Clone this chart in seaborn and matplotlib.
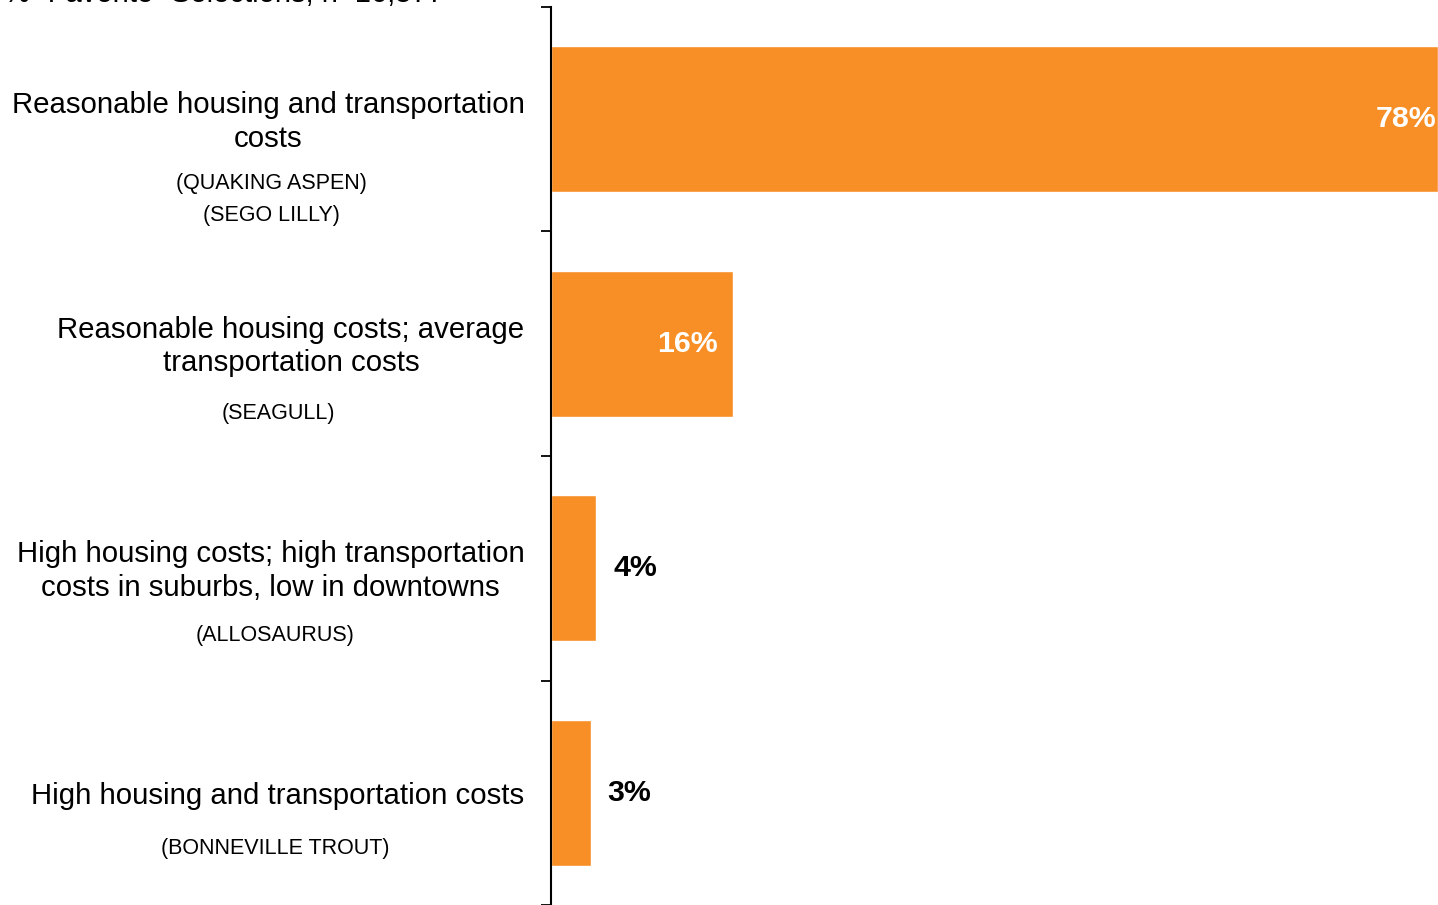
import matplotlib
matplotlib.use("Agg")
import matplotlib.pyplot as plt
import matplotlib.transforms as mtransforms
import seaborn as sns
import pandas as pd
from matplotlib.transforms import blended_transform_factory

categories = [
    "Reasonable housing and transportation\ncosts",
    "Reasonable housing costs; average\ntransportation costs",
    "High housing costs; high transportation\ncosts in suburbs, low in downtowns",
    "High housing and transportation costs",
]
sub_labels = [
    ["(QUAKING ASPEN)", "(SEGO LILLY)"],
    ["(SEAGULL)"],
    ["(ALLOSAURUS)"],
    ["(BONNEVILLE TROUT)"],
]
values = [78, 16, 4, 3.5]
value_labels = ["78%", "16%", "4%", "3%"]
title = "% \u201cFavorite\u201d Selections, n=16,577"

# layout (not data)
sub_offsets = [[0.285, 0.428], [0.31], [0.30], [0.25]]
sub_x = [271, 278, 275, 275]
inside = [True, True, False, False]
bar_color = "#F78E26"

sns.set_theme(style="white")
plt.rcParams["font.family"] = ["Liberation Sans", "DejaVu Sans"]

df = pd.DataFrame({"category": categories, "value": values})

fig = plt.figure(figsize=(14.38, 9.05), dpi=100)
ax = fig.add_axes([551 / 1438, 0, 1 - 551 / 1438, 1 - 7 / 905])
sns.barplot(data=df, y="category", x="value", orient="h", color=bar_color,
            saturation=1, width=0.65, ax=ax)

ax.set_xlim(0, 78)
ax.set_ylim(3.5, -0.5)
ax.set_xlabel("")
ax.set_ylabel("")
ax.set_xticks([])
for s in ["top", "right", "bottom"]:
    ax.spines[s].set_visible(False)
ax.spines["left"].set_color("black")
ax.spines["left"].set_linewidth(1.5)

ax.set_yticks(range(len(categories)))
ax.set_yticklabels(categories, fontsize=21.2, color="black",
                   multialignment="center", linespacing=1.25)
ax.tick_params(axis="y", which="major", length=0, pad=19)
ax.set_yticks([i - 0.5 for i in range(len(categories) + 1)], minor=True)
ax.tick_params(axis="y", which="minor", length=7, width=1.3, color="black",
               direction="out", left=True)
shift = mtransforms.ScaledTranslation(0, 3 / 100, fig.dpi_scale_trans)
for lbl in ax.get_yticklabels():
    if "\n" in lbl.get_text():
        lbl.set_transform(lbl.get_transform() + shift)

trans = blended_transform_factory(fig.transFigure, ax.transData)
for i, subs in enumerate(sub_labels):
    for s, off in zip(subs, sub_offsets[i]):
        ax.text(sub_x[i] / 1438, i + off, s, transform=trans, ha="center",
                va="center", fontsize=15.5, color="black")

for i, (v, lab) in enumerate(zip(values, value_labels)):
    if inside[i]:
        ax.annotate(lab, (v, i), xytext=(-1 if i == 0 else -11, 0),
                    textcoords="offset points", ha="right", va="center",
                    fontsize=21.8, fontweight="bold", color="white")
    else:
        ax.annotate(lab, (v, i), xytext=(12, 0), textcoords="offset points",
                    ha="left", va="center", fontsize=21.8, fontweight="bold",
                    color="black")

fig.text(4 / 1438, 1 - 2 / 905, title, ha="left", va="baseline",
         fontsize=21, color="black")

fig.savefig("out.png", dpi=100)
